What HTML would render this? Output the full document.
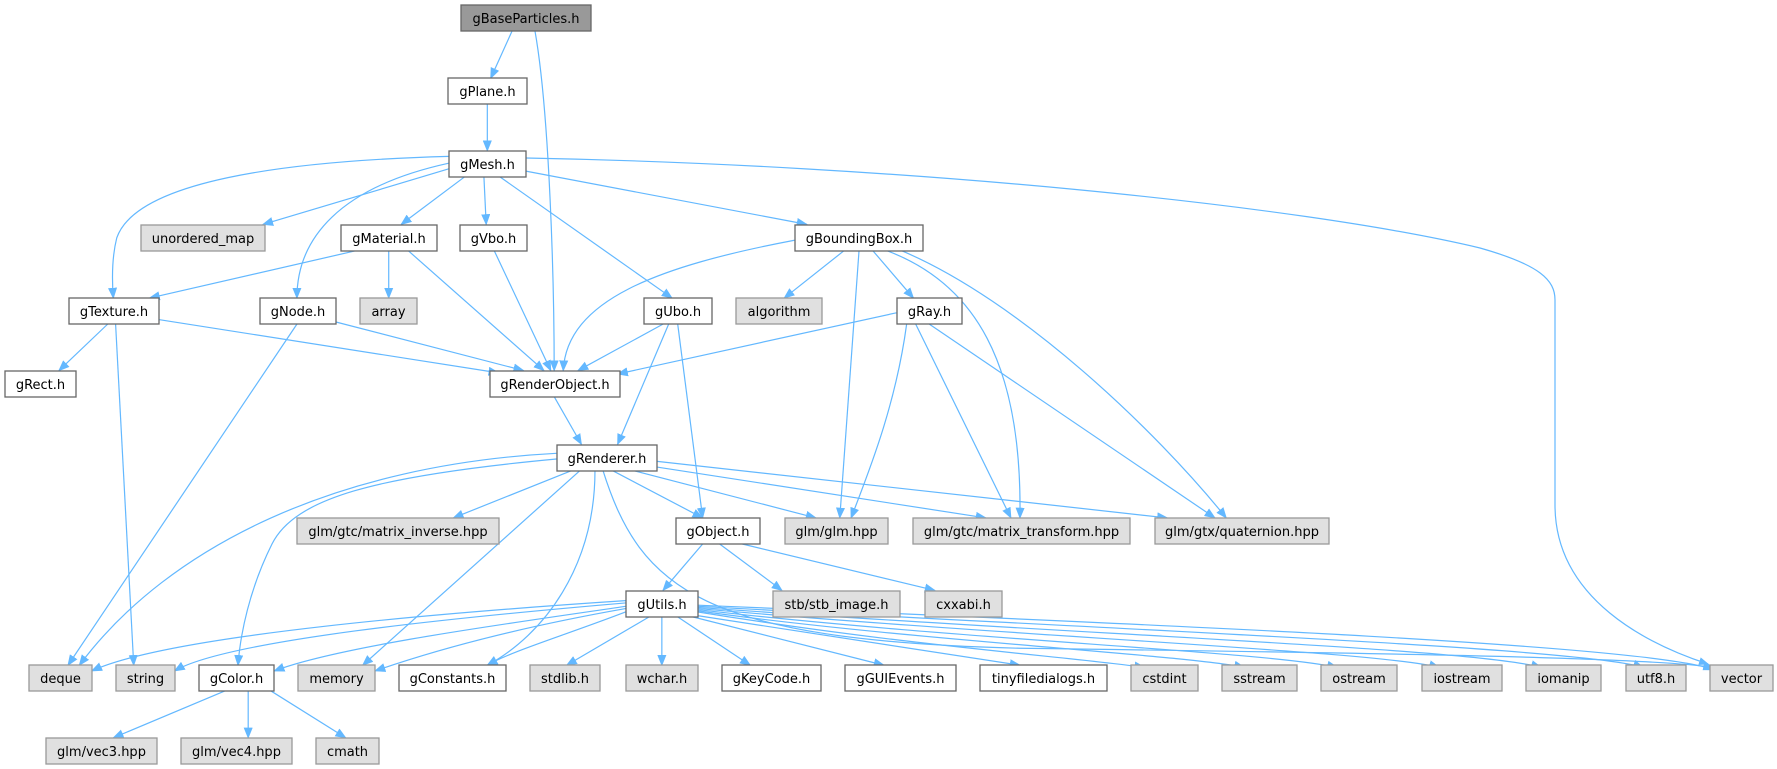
<!DOCTYPE html>
<html><head><meta charset="utf-8"><style>
html,body{margin:0;padding:0;background:#fff;}
svg{display:block;}
text{font-family:"DejaVu Sans","Liberation Sans",sans-serif;font-size:13px;fill:#000;}
</style></head><body>
<svg width="1777" height="769" viewBox="0 0 1777 769" xmlns="http://www.w3.org/2000/svg">
<defs>
<marker id="a" markerUnits="userSpaceOnUse" markerWidth="10" markerHeight="8" refX="9" refY="4" orient="auto">
<path d="M0,0 L10,4 L0,8 z" fill="#63b8ff"/>
</marker>
</defs>
<g fill="none" stroke="#63b8ff" stroke-width="1.2" marker-end="url(#a)">
<path d="M526,158 C900,165 1300,205 1480,248 C1540,265 1555,280 1555,300 L1555,505 C1555,600 1650,645 1708,664"/>
<g transform="scale(1.1333)" stroke-width="1.06">
<path d="M452,27 L433,69"/>
<path d="M472,27 C485,100 489,250 489,327"/>
<path d="M430,92 L430,133"/>
<path d="M396,138 C250,142 120,160 103,210 C98,230 99,250 100,263"/>
<path d="M396,149 L232,198"/>
<path d="M396,144 C300,165 262,210 262,263"/>
<path d="M410,156 L354,198"/>
<path d="M427,156 L429,198"/>
<path d="M441,156 L593,263"/>
<path d="M464,151 L712,198"/>
<path d="M315,221 L132,263"/>
<path d="M343,221 L343,263"/>
<path d="M360,221 L480,327"/>
<path d="M436,221 L486,327"/>
<path d="M95,286 L52,327"/>
<path d="M102,286 L118,587"/>
<path d="M140,282 L440,329"/>
<path d="M296,284 L462,327"/>
<path d="M262,286 L60,587"/>
<path d="M701,212 C580,235 500,265 497,327"/>
<path d="M745,221 L692,263"/>
<path d="M770,221 L806,263"/>
<path d="M758,221 L741,457"/>
<path d="M782,221 C860,250 902,320 900,457"/>
<path d="M795,221 C900,265 1020,380 1082,457"/>
<path d="M585,286 L510,327"/>
<path d="M590,286 L545,392"/>
<path d="M598,286 L620,457"/>
<path d="M791,276 L545,330"/>
<path d="M800,286 C790,360 765,420 751,457"/>
<path d="M808,286 L892,457"/>
<path d="M820,286 L1072,457"/>
<path d="M489,350 L513,392"/>
<path d="M491,400 C300,410 150,480 70,587"/>
<path d="M491,405 C330,420 260,440 240,480 C220,520 212,560 210,587"/>
<path d="M505,415 L400,457"/>
<path d="M512,415 L320,587"/>
<path d="M525,415 C525,500 480,560 430,587"/>
<path d="M540,415 L620,457"/>
<path d="M558,415 L720,457"/>
<path d="M579,412 L870,457"/>
<path d="M579,407 L1030,457"/>
<path d="M532,415 C565,520 620,565 900,572 C1200,576 1460,580 1512,589"/>
<path d="M620,480 L585,521"/>
<path d="M635,480 L690,521"/>
<path d="M655,480 L825,521"/>
<path d="M552,530 C400,540 150,560 81,592"/>
<path d="M552,532 C400,545 200,565 154,592"/>
<path d="M552,535 C450,550 300,570 242,592"/>
<path d="M552,537 C450,555 380,575 331,592"/>
<path d="M552,540 C500,560 450,575 430,587"/>
<path d="M575,543 L500,587"/>
<path d="M584,543 L584,587"/>
<path d="M596,543 L662,587"/>
<path d="M606,543 L780,587"/>
<path d="M614,543 L900,587"/>
<path d="M616,540 C800,570 950,580 1010,589"/>
<path d="M616,539 C800,565 1050,578 1098,589"/>
<path d="M616,538 C850,565 1120,575 1180,589"/>
<path d="M616,537 C900,562 1220,575 1270,589"/>
<path d="M616,536 C950,560 1300,572 1360,589"/>
<path d="M616,535 C1000,556 1400,572 1450,589"/>
<path d="M616,534 C1050,552 1460,570 1512,591"/>
<path d="M200,609 L100,651"/>
<path d="M219,609 L219,651"/>
<path d="M238,609 L305,651"/>
</g>
</g>
<g stroke-width="1.3">
<rect x="461" y="5" width="130" height="26" fill="#999" stroke="#666"/>
<g fill="#fff" stroke="#666">
<rect x="448" y="78" width="79" height="26"/>
<rect x="449" y="151" width="77" height="26"/>
<rect x="341" y="225" width="96" height="26"/>
<rect x="460" y="225" width="67" height="26"/>
<rect x="795" y="225" width="128" height="26"/>
<rect x="69" y="298" width="90" height="26"/>
<rect x="260" y="298" width="76" height="26"/>
<rect x="644" y="298" width="68" height="26"/>
<rect x="897" y="298" width="65" height="26"/>
<rect x="5" y="371" width="71" height="26"/>
<rect x="490" y="371" width="130" height="26"/>
<rect x="557" y="445" width="100" height="26"/>
<rect x="676" y="518" width="84" height="26"/>
<rect x="626" y="591" width="72" height="26"/>
<rect x="199" y="665" width="75" height="26"/>
<rect x="399" y="665" width="107" height="26"/>
<rect x="722" y="665" width="99" height="26"/>
<rect x="845" y="665" width="111" height="26"/>
<rect x="980" y="665" width="127" height="26"/>
</g>
<g fill="#e0e0e0" stroke="#999">
<rect x="141" y="225" width="124" height="26"/>
<rect x="360" y="298" width="57" height="26"/>
<rect x="736" y="298" width="86" height="26"/>
<rect x="297" y="518" width="202" height="26"/>
<rect x="785" y="518" width="103" height="26"/>
<rect x="913" y="518" width="217" height="26"/>
<rect x="1155" y="518" width="174" height="26"/>
<rect x="773" y="591" width="127" height="26"/>
<rect x="925" y="591" width="77" height="26"/>
<rect x="29" y="665" width="63" height="26"/>
<rect x="116" y="665" width="59" height="26"/>
<rect x="298" y="665" width="77" height="26"/>
<rect x="530" y="665" width="70" height="26"/>
<rect x="626" y="665" width="72" height="26"/>
<rect x="1131" y="665" width="67" height="26"/>
<rect x="1222" y="665" width="75" height="26"/>
<rect x="1321" y="665" width="76" height="26"/>
<rect x="1422" y="665" width="80" height="26"/>
<rect x="1526" y="665" width="75" height="26"/>
<rect x="1626" y="665" width="60" height="26"/>
<rect x="1710" y="665" width="63" height="26"/>
<rect x="46" y="738" width="111" height="26"/>
<rect x="181" y="738" width="111" height="26"/>
<rect x="316" y="738" width="63" height="26"/>
</g>
</g>
<g text-anchor="middle">
<text x="526" y="23">gBaseParticles.h</text>
<text x="487.5" y="96">gPlane.h</text>
<text x="487.5" y="169">gMesh.h</text>
<text x="203" y="243">unordered_map</text>
<text x="389" y="243">gMaterial.h</text>
<text x="493.5" y="243">gVbo.h</text>
<text x="859" y="243">gBoundingBox.h</text>
<text x="114" y="316">gTexture.h</text>
<text x="298" y="316">gNode.h</text>
<text x="388.5" y="316">array</text>
<text x="678" y="316">gUbo.h</text>
<text x="779" y="316">algorithm</text>
<text x="929.5" y="316">gRay.h</text>
<text x="40.5" y="389">gRect.h</text>
<text x="555" y="389">gRenderObject.h</text>
<text x="607" y="463">gRenderer.h</text>
<text x="398" y="536">glm/gtc/matrix_inverse.hpp</text>
<text x="718" y="536">gObject.h</text>
<text x="836.5" y="536">glm/glm.hpp</text>
<text x="1021.5" y="536">glm/gtc/matrix_transform.hpp</text>
<text x="1242" y="536">glm/gtx/quaternion.hpp</text>
<text x="662" y="609">gUtils.h</text>
<text x="836.5" y="609">stb/stb_image.h</text>
<text x="963.5" y="609">cxxabi.h</text>
<text x="60.5" y="683">deque</text>
<text x="145.5" y="683">string</text>
<text x="236.5" y="683">gColor.h</text>
<text x="336.5" y="683">memory</text>
<text x="452.5" y="683">gConstants.h</text>
<text x="565" y="683">stdlib.h</text>
<text x="662" y="683">wchar.h</text>
<text x="771.5" y="683">gKeyCode.h</text>
<text x="900.5" y="683">gGUIEvents.h</text>
<text x="1043.5" y="683">tinyfiledialogs.h</text>
<text x="1164.5" y="683">cstdint</text>
<text x="1259.5" y="683">sstream</text>
<text x="1359" y="683">ostream</text>
<text x="1462" y="683">iostream</text>
<text x="1563.5" y="683">iomanip</text>
<text x="1656" y="683">utf8.h</text>
<text x="1741.5" y="683">vector</text>
<text x="101.5" y="756">glm/vec3.hpp</text>
<text x="236.5" y="756">glm/vec4.hpp</text>
<text x="347.5" y="756">cmath</text>
</g>
</svg>
</body></html>
